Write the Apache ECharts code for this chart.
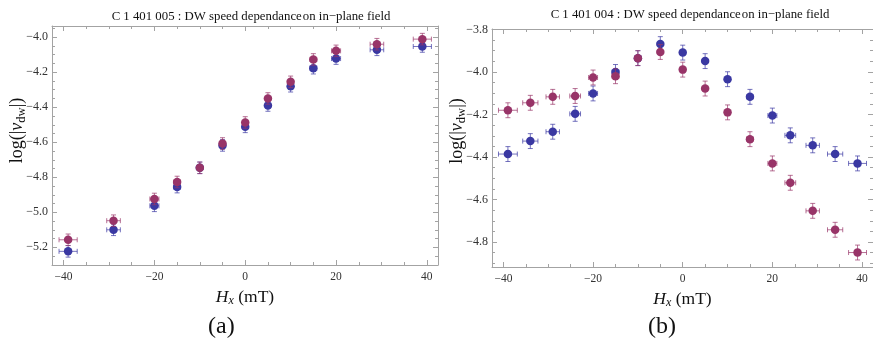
<!DOCTYPE html>
<html>
<head>
<meta charset="utf-8">
<script src="https://cdn.jsdelivr.net/npm/echarts@6/dist/echarts.min.js"></script>
<style>
  html, body { margin: 0; padding: 0; background: #fff; }
  #chart { width: 873px; height: 347px; }
</style>
</head>
<body>
<div id="chart"></div>
<script>
// ---- Panel (a): sample C 1 401 005 ----
const fieldA = [-39, -29, -20, -15, -10, -5, 0, 5, 10, 15, 20, 29, 39];
const purpleA = [-5.157, -5.048, -4.924, -4.827, -4.746, -4.607, -4.487, -4.350, -4.255, -4.127, -4.078, -4.040, -4.011];
const blueA   = [-5.223, -5.100, -4.963, -4.856, -4.746, -4.618, -4.512, -4.390, -4.280, -4.177, -4.122, -4.072, -4.053];
const fieldErrA = [2.0, 1.5, 1.0, 0.75, 0.5, 0.25, 0, 0.25, 0.5, 0.75, 1.0, 1.5, 2.0];
const logErrA   = [0.033, 0.033, 0.033, 0.033, 0.033, 0.033, 0.033, 0.033, 0.033, 0.033, 0.033, 0.033, 0.033];

// ---- Panel (b): sample C 1 401 004 ----
const fieldB = [-39, -34, -29, -24, -20, -15, -10, -5, 0, 5, 10, 15, 20, 24, 29, 34, 39];
const purpleB = [-4.180, -4.145, -4.117, -4.113, -4.026, -4.020, -3.935, -3.906, -3.989, -4.078, -4.190, -4.316, -4.430, -4.521, -4.653, -4.742, -4.849];
const blueB   = [-4.386, -4.325, -4.281, -4.197, -4.101, -4.000, -3.935, -3.869, -3.909, -3.949, -4.034, -4.117, -4.205, -4.298, -4.345, -4.386, -4.430];
const fieldErrB = [2.1, 1.7, 1.5, 1.2, 1.0, 0.75, 0.5, 0.25, 0, 0.25, 0.5, 0.75, 1.0, 1.2, 1.5, 1.7, 2.0];
const logErrB   = [0.035, 0.035, 0.035, 0.035, 0.035, 0.035, 0.035, 0.035, 0.035, 0.035, 0.035, 0.035, 0.035, 0.035, 0.035, 0.035, 0.035];

// ---- Tick marks and labels ----
const xMajorTicks = [-40, -20, 0, 20, 40];
const xMinorTicks = [-40, -35, -30, -25, -20, -15, -10, -5, 0, 5, 10, 15, 20, 25, 30, 35, 40];
const yMajorTicksA = [-5.2, -5.0, -4.8, -4.6, -4.4, -4.2, -4.0];
const yMinorTicksA = [-5.3, -5.25, -5.2, -5.15, -5.1, -5.05, -5.0, -4.95, -4.9, -4.85, -4.8, -4.75, -4.7, -4.65, -4.6, -4.55, -4.5, -4.45, -4.4, -4.35, -4.3, -4.25, -4.2, -4.15, -4.1, -4.05, -4.0, -3.95];
const yMajorTicksB = [-4.8, -4.6, -4.4, -4.2, -4.0, -3.8];
const yMinorTicksB = [-4.9, -4.85, -4.8, -4.75, -4.7, -4.65, -4.6, -4.55, -4.5, -4.45, -4.4, -4.35, -4.3, -4.25, -4.2, -4.15, -4.1, -4.05, -4.0, -3.95, -3.9, -3.85, -3.8];

const titleA = 'C 1 401 005 : DW speed dependance\u200aon in\u2212plane field';
const titleB = 'C 1 401 004 : DW speed dependance\u200aon in\u2212plane field';

const PURPLE = '#983468';
const BLUE = '#3a38a2';
const FRAME = '#a3a3a3';
const SERIF = '"Liberation Serif", "DejaVu Serif", serif';

function frameLine(show) {
  return { show: show, onZero: false, lineStyle: { color: FRAME, width: 1 } };
}

function xAxesFor(grid) {
  const base = { type: 'value', gridIndex: grid, min: -42.55, max: 42.45, splitLine: { show: false } };
  return [
    Object.assign({}, base, {
      position: 'bottom',
      axisLine: frameLine(true),
      axisTick: { show: true, inside: true, length: 5, lineStyle: { color: FRAME }, customValues: xMajorTicks },
      axisLabel: { show: true, customValues: xMajorTicks, margin: 6, color: '#333', fontFamily: SERIF, fontSize: 11.5,
        formatter: v => (v < 0 ? '\u2212' : '') + Math.abs(v) },
      name: '{i|H}{s|x}{a| (mT)}', nameLocation: 'middle', nameGap: 22,
      nameTextStyle: { rich: {
        i: { fontFamily: SERIF, fontSize: 17.5, fontStyle: 'italic', color: '#111' },
        s: { fontFamily: SERIF, fontSize: 12, fontStyle: 'italic', color: '#111', verticalAlign: 'bottom', padding: [8, 0, 0, 0] },
        a: { fontFamily: SERIF, fontSize: 17.5, color: '#111' } } }
    }),
    Object.assign({}, base, {
      position: 'bottom',
      axisLine: frameLine(false),
      axisTick: { show: true, inside: true, length: 3, lineStyle: { color: FRAME }, customValues: xMinorTicks },
      axisLabel: { show: false }
    }),
    Object.assign({}, base, {
      position: 'top',
      axisLine: frameLine(true),
      axisTick: { show: true, inside: true, length: 5, lineStyle: { color: FRAME }, customValues: xMajorTicks },
      axisLabel: { show: false }
    }),
    Object.assign({}, base, {
      position: 'top',
      axisLine: frameLine(false),
      axisTick: { show: true, inside: true, length: 3, lineStyle: { color: FRAME }, customValues: xMinorTicks },
      axisLabel: { show: false }
    })
  ];
}

function yAxesFor(grid, min, max, major, minor, nameGap, shiftUp) {
  const base = { type: 'value', gridIndex: grid, min: min, max: max, splitLine: { show: false } };
  return [
    Object.assign({}, base, {
      position: 'left',
      axisLine: frameLine(true),
      axisTick: { show: true, inside: true, length: 5, lineStyle: { color: FRAME }, customValues: major },
      axisLabel: { show: true, customValues: major, margin: 4, color: '#333', fontFamily: SERIF, fontSize: 12,
        formatter: v => (v < 0 ? '\u2212' : '') + Math.abs(v).toFixed(1) },
      name: '{a|log(|}{i|v}{s|dw}{a||)}', nameLocation: 'middle', nameGap: nameGap, nameRotate: 90,
      nameMoveOverlap: false,
      nameTextStyle: { padding: [0, 0, 0, shiftUp], rich: {
        a: { fontFamily: SERIF, fontSize: 18, color: '#111' },
        i: { fontFamily: SERIF, fontSize: 18, fontStyle: 'italic', color: '#111' },
        s: { fontFamily: SERIF, fontSize: 12.5, color: '#111', verticalAlign: 'bottom', padding: [9, 0, 0, 0] } } }
    }),
    Object.assign({}, base, {
      position: 'left',
      axisLine: frameLine(false),
      axisTick: { show: true, inside: true, length: 3, lineStyle: { color: FRAME }, customValues: minor },
      axisLabel: { show: false }
    }),
    Object.assign({}, base, {
      position: 'right',
      axisLine: frameLine(true),
      axisTick: { show: true, inside: true, length: 5, lineStyle: { color: FRAME }, customValues: major },
      axisLabel: { show: false }
    }),
    Object.assign({}, base, {
      position: 'right',
      axisLine: frameLine(false),
      axisTick: { show: true, inside: true, length: 3, lineStyle: { color: FRAME }, customValues: minor },
      axisLabel: { show: false }
    })
  ];
}

// Error bars: horizontal (field) and vertical (log speed) whiskers with end caps
function errorBars(color) {
  return function (params, api) {
    const x = api.value(0), y = api.value(1), ex = api.value(2), ey = api.value(3);
    const c = api.coord([x, y]);
    const top = api.coord([x, y + ey])[1];
    const bot = api.coord([x, y - ey])[1];
    const cap = 2.5;
    const style = { stroke: color, lineWidth: 1, opacity: 0.7 };
    const children = [
      { type: 'line', shape: { x1: c[0], y1: top, x2: c[0], y2: bot }, style: style },
      { type: 'line', shape: { x1: c[0] - cap, y1: top, x2: c[0] + cap, y2: top }, style: style },
      { type: 'line', shape: { x1: c[0] - cap, y1: bot, x2: c[0] + cap, y2: bot }, style: style }
    ];
    if (ex > 0) {
      const l = api.coord([x - ex, y])[0];
      const r = api.coord([x + ex, y])[0];
      children.push(
        { type: 'line', shape: { x1: l, y1: c[1], x2: r, y2: c[1] }, style: style },
        { type: 'line', shape: { x1: l, y1: c[1] - cap, x2: l, y2: c[1] + cap }, style: style },
        { type: 'line', shape: { x1: r, y1: c[1] - cap, x2: r, y2: c[1] + cap }, style: style }
      );
    }
    return { type: 'group', children: children };
  };
}

function seriesFor(xs, ys, exs, eys, color, xIdx, yIdx, z) {
  const pts = xs.map((x, i) => [x, ys[i], exs[i], eys[i]]);
  return [
    { type: 'custom', xAxisIndex: xIdx, yAxisIndex: yIdx, renderItem: errorBars(color), data: pts,
      encode: { x: 0, y: 1 }, z: z, silent: true, clip: false },
    { type: 'scatter', xAxisIndex: xIdx, yAxisIndex: yIdx, data: pts.map(p => [p[0], p[1]]),
      symbol: 'circle', symbolSize: 8.5, itemStyle: { color: color, opacity: 1 }, z: z + 1, silent: true }
  ];
}

const option = {
  backgroundColor: '#fff',
  animation: false,
  title: [
    { text: titleA, left: 246, top: 5, textAlign: 'center',
      textStyle: { fontFamily: SERIF, fontSize: 12.8, fontWeight: 'normal', color: '#111' } },
    { text: titleB, left: 685, top: 3, textAlign: 'center',
      textStyle: { fontFamily: SERIF, fontSize: 12.8, fontWeight: 'normal', color: '#111' } }
  ],
  grid: [
    { left: 52, top: 26, width: 386, height: 239 },
    { left: 492, top: 29, width: 386, height: 238 }
  ],
  xAxis: xAxesFor(0).concat(xAxesFor(1)),
  yAxis: yAxesFor(0, -5.301, -3.936, yMajorTicksA, yMinorTicksA, 24, 30)
    .concat(yAxesFor(1, -4.917, -3.798, yMajorTicksB, yMinorTicksB, 24, 34)),
  series: []
    .concat(seriesFor(fieldA, blueA, fieldErrA, logErrA, BLUE, 0, 0, 2))
    .concat(seriesFor(fieldA, purpleA, fieldErrA, logErrA, PURPLE, 0, 0, 4))
    .concat(seriesFor(fieldB, blueB, fieldErrB, logErrB, BLUE, 4, 4, 2))
    .concat(seriesFor(fieldB, purpleB, fieldErrB, logErrB, PURPLE, 4, 4, 4)),
  graphic: [
    { type: 'text', left: 208, top: 315, style: { text: '(a)', font: '24px ' + SERIF, fill: '#111' } },
    { type: 'text', left: 648, top: 315, style: { text: '(b)', font: '24px ' + SERIF, fill: '#111' } }
  ]
};

const chart = echarts.init(document.getElementById('chart'), null, { renderer: 'canvas' });
chart.setOption(option);
</script>
</body>
</html>
